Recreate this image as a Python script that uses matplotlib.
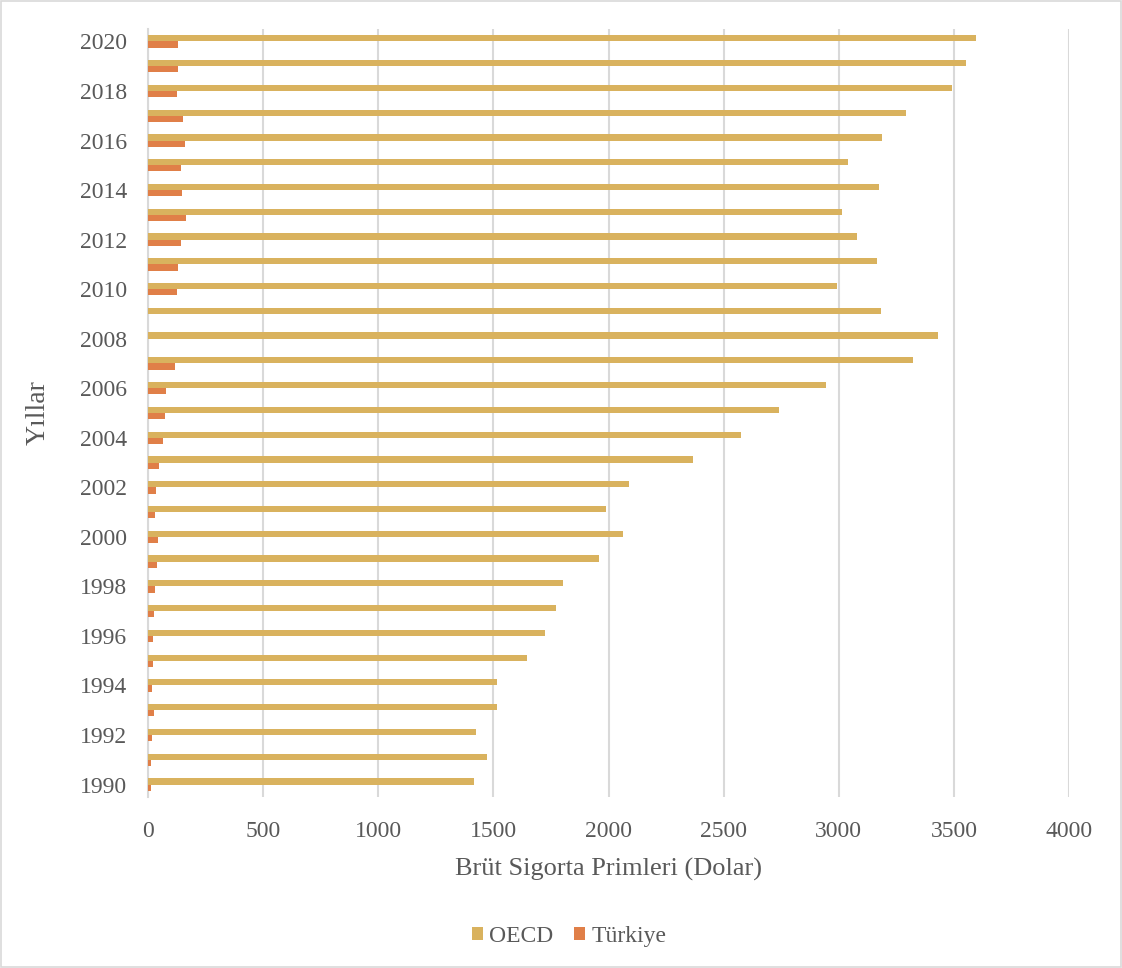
import numpy as np
import matplotlib.pyplot as plt
from matplotlib.patches import Rectangle

plt.rcParams.update({
    "font.family": "serif",
    "font.serif": ["Liberation Serif", "DejaVu Serif"],
})

#------------------------------data-------------------------------------
years = list(range(1990, 2021))
oecd = [1414, 1474, 1423, 1516, 1516, 1646, 1724, 1772, 1803, 1957,
        2065, 1987, 2090, 2366, 2575, 2742, 2944, 3323, 3433, 3184,
        2993, 3168, 3080, 3016, 3173, 3038, 3187, 3294, 3491, 3554,
        3595]
turkiye = [14, 14, 19, 25, 16, 20, 23, 27, 32, 38,
           45, 32, 35, 46, 67, 75, 80, 117, 0, 0,
           127, 132, 143, 165, 148, 142, 159, 150, 124, 129,
           129]
ytick_labels = [str(y) if y % 2 == 0 else "" for y in years]
#-----------------------------------------------------------------------

gold = "#D9B25E"
orange = "#E07F48"
grey_text = "#595959"
grid_col = "#D9D9D9"

fig = plt.figure(figsize=(11.22, 9.68), dpi=100)
ax = fig.add_axes([0.1319, 0.1767, 0.9528 - 0.1319, 0.970 - 0.1767])

y = np.arange(len(years))
h = 0.25
ax.barh(y + h / 2, oecd, height=h, color=gold, label="OECD", zorder=3)
ax.barh(y - h / 2, turkiye, height=h, color=orange, label="Türkiye", zorder=3)

ax.set_xlim(0, 4000)
ax.set_ylim(-0.5, len(years) - 0.5)
ax.set_xticks(np.arange(0, 4001, 500))
ax.set_yticks(y)
ax.set_yticklabels(ytick_labels)

ax.grid(axis="x", color=grid_col, linewidth=1.5, zorder=0)
for s in ["top", "right", "bottom"]:
    ax.spines[s].set_visible(False)
ax.spines["left"].set_color(grid_col)
ax.spines["left"].set_linewidth(1.5)
ax.tick_params(length=0, labelsize=17, colors=grey_text)
ax.tick_params(axis="y", pad=15)
ax.tick_params(axis="x", pad=17)

ax.set_xlabel("Brüt Sigorta Primleri (Dolar)", fontsize=19, color=grey_text, labelpad=12)
ax.set_ylabel("Yıllar", fontsize=20, color=grey_text, labelpad=21)

leg = fig.legend(loc="center", bbox_to_anchor=(0.507, 0.033), ncol=2, frameon=False,
                 fontsize=17, handlelength=0.47, handleheight=0.47, handletextpad=0.25,
                 columnspacing=0.9)
for t in leg.get_texts():
    t.set_color(grey_text)

# outer chart border
fig.add_artist(Rectangle((0.001, 0.001), 0.998, 0.998, transform=fig.transFigure,
                         fill=False, edgecolor=grid_col, linewidth=1.2))

fig.savefig("out.png", dpi=100)
